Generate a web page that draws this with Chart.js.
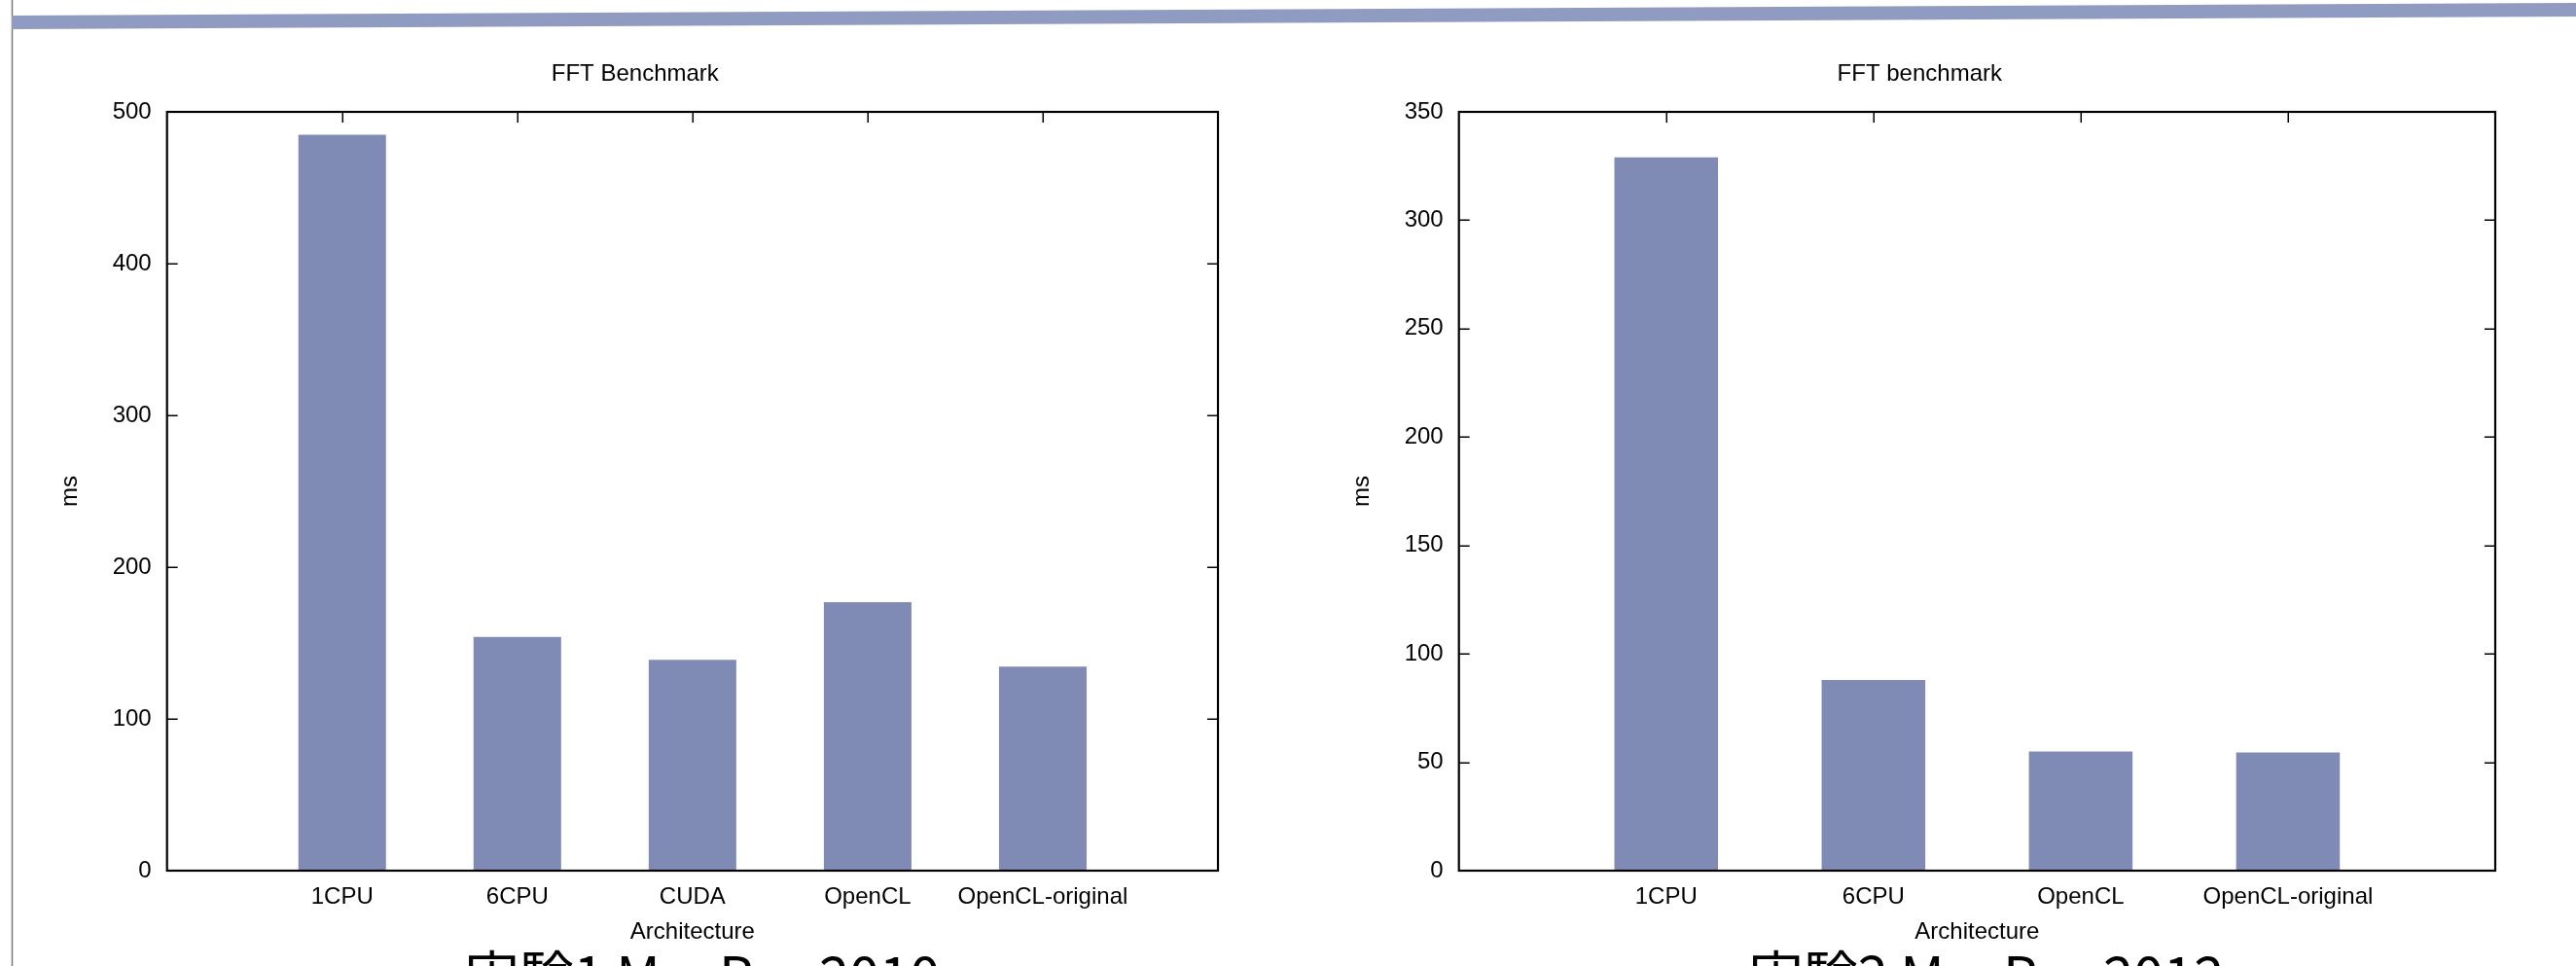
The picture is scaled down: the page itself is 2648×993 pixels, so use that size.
<!DOCTYPE html>
<html>
<head>
<meta charset="utf-8">
<script src="https://cdn.jsdelivr.net/npm/chart.js@4.4.1/dist/chart.umd.min.js"></script>
<style>
  html, body { margin: 0; padding: 0; background: #fff; }
  body { width: 2648px; height: 993px; position: relative; overflow: hidden; }
  canvas { position: absolute; top: 0; }
  #leftChart { left: 0; }
  #rightChart { left: 1324px; }
  .caption {
    position: absolute; top: 972px; white-space: nowrap;
    font-family: "Noto Sans CJK JP", sans-serif; font-size: 56px; line-height: 1;
    color: #000; transform: translateX(-50%);
  }
  svg.deco { position: absolute; left: 0; top: 0; }
</style>
</head>
<body>
<svg class="deco" width="2648" height="993">
  <line x1="12.5" y1="0" x2="12.5" y2="993" stroke="#7a7a7a" stroke-width="1.5"/>
  <polygon points="12,16 2648,3 2648,17 12,30" fill="#8f9bc1"/>
</svg>
<canvas id="leftChart" width="1324" height="993"></canvas>
<canvas id="rightChart" width="1324" height="993"></canvas>
<div class="caption" style="left:722px">実験1 MacPro 2010</div>
<div class="caption" style="left:2042px">実験2 MacPro 2012</div>

<script>
// Benchmark run 1
const leftTitle = 'FFT Benchmark';
const leftCategories = ['1CPU', '6CPU', 'CUDA', 'OpenCL', 'OpenCL-original'];
const leftTimes = [485, 154, 139, 177, 134.5];
const leftAxisMax = 500;
const leftAxisStep = 100;

// Benchmark run 2
const rightTitle = 'FFT benchmark';
const rightCategories = ['1CPU', '6CPU', 'OpenCL', 'OpenCL-original'];
const rightTimes = [329, 88, 55, 54.5];
const rightAxisMax = 350;
const rightAxisStep = 50;

const xAxisTitle = 'Architecture';
const yAxisTitle = 'ms';

const BAR_COLOR = '#808bb5';
const FONT = { family: '"Liberation Sans", Arial, Helvetica, sans-serif', size: 24, weight: 'normal' };
const TICK_LEN = 11;

// Inward tick marks on all four sides plus a closed frame round the plot area
const framePlugin = {
  id: 'frame',
  beforeDatasetsDraw(chart) {
    const { ctx, chartArea: a, scales: { x, y } } = chart;
    ctx.save();
    ctx.strokeStyle = '#000';
    ctx.lineWidth = 1.5;
    ctx.beginPath();
    y.ticks.forEach((t, i) => {
      const py = Math.round(y.getPixelForTick(i)) + 0.25;
      if (py <= a.top + 2 || py >= a.bottom - 2) return;
      ctx.moveTo(a.left, py); ctx.lineTo(a.left + TICK_LEN, py);
      ctx.moveTo(a.right, py); ctx.lineTo(a.right - TICK_LEN, py);
    });
    x.ticks.forEach((t, i) => {
      if (t.value < 1 || t.value > x.max - 1) return;
      const px = Math.round(x.getPixelForTick(i)) + 0.25;
      ctx.moveTo(px, a.top); ctx.lineTo(px, a.top + TICK_LEN);
      ctx.moveTo(px, a.bottom); ctx.lineTo(px, a.bottom - TICK_LEN);
    });
    ctx.stroke();
    ctx.restore();
  },
  afterDatasetsDraw(chart) {
    const { ctx, chartArea: a } = chart;
    ctx.save();
    ctx.strokeStyle = '#000';
    ctx.lineWidth = 2.2;
    ctx.strokeRect(a.left, a.top, a.right - a.left, a.bottom - a.top);
    ctx.restore();
  }
};

function makeChart(id, title, categories, values, yMax, yStep, pad) {
  const points = categories.map((c, i) => ({ x: i + 1, y: values[i] }));
  return new Chart(document.getElementById(id), {
    type: 'bar',
    data: {
      datasets: [{
        data: points,
        backgroundColor: BAR_COLOR,
        borderWidth: 0,
        barPercentage: 0.5,
        categoryPercentage: 1
      }]
    },
    options: {
      responsive: false,
      animation: false,
      layout: { padding: { left: pad.left, right: pad.right, top: 61.6, bottom: 16 } },
      plugins: {
        legend: { display: false },
        tooltip: { enabled: false },
        title: {
          display: true, text: title, color: '#000',
          font: FONT, padding: { top: 0, bottom: 24.6 }
        }
      },
      scales: {
        x: {
          type: 'linear', min: 0, max: categories.length + 1,
          offset: false,
          grid: { display: false, drawTicks: false, offset: false },
          border: { display: false },
          ticks: {
            stepSize: 1, autoSkip: false, maxRotation: 0, padding: 13,
            color: '#000', font: FONT,
            callback: v => categories[v - 1] ?? ''
          },
          title: { display: true, text: xAxisTitle, color: '#000', font: FONT, padding: { top: 4, bottom: 4 } },
          afterFit: s => { s.height = 82; }
        },
        y: {
          min: 0, max: yMax,
          grid: { display: false, drawTicks: false },
          border: { display: false },
          ticks: { stepSize: yStep, padding: 16, color: '#000', font: FONT },
          title: { display: true, text: yAxisTitle, color: '#000', font: FONT, padding: { top: 4, bottom: 4 } },
          afterFit: s => { s.width = 118.1; }
        }
      }
    },
    plugins: [framePlugin]
  });
}

makeChart('leftChart', leftTitle, leftCategories, leftTimes, leftAxisMax, leftAxisStep, { left: 53.6, right: 72 });
makeChart('rightChart', rightTitle, rightCategories, rightTimes, rightAxisMax, rightAxisStep, { left: 57.6, right: 83 });
</script>
</body>
</html>
